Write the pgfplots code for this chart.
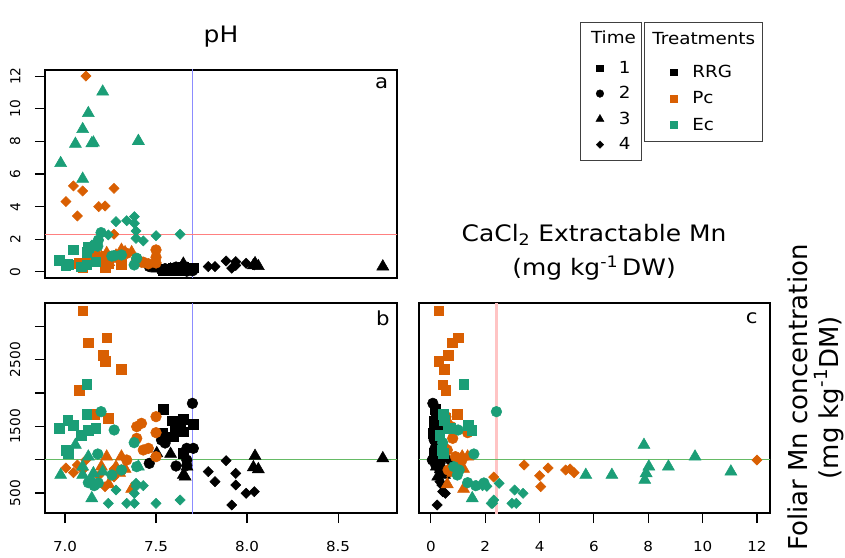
\documentclass[border=0pt]{standalone}
\usepackage{fontspec}
\setmainfont{DejaVu Sans}[FakeStretch=1.1]
\newfontfamily\vfont{DejaVu Sans}
\usepackage{pgfplots}
\usepackage{pgfplotstable}
\pgfplotsset{compat=1.18}

\definecolor{rrg}{HTML}{000000}
\definecolor{pc}{HTML}{D95F02}
\definecolor{ec}{HTML}{1B9E77}
\definecolor{refblue}{HTML}{8C8CFF}
\definecolor{refred}{HTML}{FF8080}
\definecolor{refgreen}{HTML}{66BB66}
\definecolor{refpink}{HTML}{FFC4C4}

% columns: pH, CaCl2 extractable Mn, foliar Mn
\pgfplotstableread{
ph ca fol
7.540 0.15 1760
7.590 0.10 1585
7.650 0.20 1605
7.705 0.25 1535
7.604 0.12 1445
7.632 0.18 1495
7.537 0.08 1395
7.595 0.22 1345
7.650 0.30 1420
7.650 0.10 1095
}\rrgA
\pgfplotstableread{
ph ca fol
7.700 0.07 1845
7.530 0.12 1295
7.550 0.20 1250
7.705 0.15 1170
7.669 0.25 1170
7.463 0.33 945
7.610 0.30 905
7.669 0.05 995
7.669 0.18 915
}\rrgB
\pgfplotstableread{
ph ca fol
7.504 0.20 1095
7.580 0.15 1085
7.650 0.50 770
7.660 0.25 745
7.670 0.20 895
8.044 0.53 1055
8.035 0.40 885
8.062 0.35 855
8.746 0.33 1020
}\rrgC
\pgfplotstableread{
ph ca fol
7.787 0.33 820
7.824 0.33 670
7.885 0.67 985
7.938 0.63 795
7.938 0.40 620
7.916 0.23 320
7.995 0.53 495
8.040 0.43 520
}\rrgD
\pgfplotstableread{
ph ca fol
7.097 0.29 3235
7.229 1.00 2830
7.128 0.78 2755
7.210 0.64 2570
7.220 0.29 2480
7.310 0.48 2360
7.077 0.54 2045
7.120 0.44 2125
7.161 0.97 1685
7.238 0.54 1620
}\pcA
\pgfplotstableread{
ph ca fol
7.500 0.55 1645
7.420 0.60 1545
7.394 0.75 1495
7.500 1.35 1405
7.394 0.80 1320
7.430 0.60 1145
7.458 0.50 1170
7.500 0.90 1045
7.339 1.14 995
7.310 0.63 845
}\pcB
\pgfplotstableread{
ph ca fol
7.229 1.15 1045
7.310 1.35 1045
7.200 0.90 895
7.280 1.00 890
7.330 1.20 860
7.300 0.80 800
7.240 0.60 630
7.366 1.20 560
}\pcC
\pgfplotstableread{
ph ca fol
7.115 12.00 995
7.046 5.27 805
7.097 4.96 845
7.269 5.12 860
7.005 4.31 875
7.068 3.43 920
7.185 4.00 760
7.220 4.04 595
7.269 2.31 740
}\pcD
\pgfplotstableread{
ph ca fol
7.120 1.21 2130
7.120 0.45 1685
6.969 0.73 1470
7.015 0.49 1595
7.046 1.37 1520
7.088 0.33 1370
7.128 1.50 1445
7.170 0.63 1470
7.005 0.40 1145
7.018 0.45 1095
}\ecA
\pgfplotstableread{
ph ca fol
7.198 2.41 1720
7.270 1.00 1445
7.380 0.43 1255
7.180 1.58 1085
7.128 1.35 655
7.183 1.95 650
7.257 0.97 770
7.310 1.04 845
7.394 0.84 895
7.160 1.65 610
}\ecB
\pgfplotstableread{
ph ca fol
7.207 11.04 820
7.128 9.72 1045
7.097 8.74 895
7.057 7.84 1220
7.156 7.92 795
7.403 8.02 895
6.976 6.66 770
7.097 5.70 770
7.147 7.87 695
7.147 1.52 420
}\ecC
\pgfplotstableread{
ph ca fol
7.280 3.08 545
7.339 3.14 345
7.381 3.39 495
7.381 2.98 345
7.390 2.51 645
7.390 2.06 600
7.430 1.90 610
7.238 2.27 345
7.500 2.22 345
7.632 2.31 395
}\ecD

\pgfplotsset{
  t1/.style={only marks, forget plot, mark=square*, mark size=3.6pt},
  t2/.style={only marks, forget plot, mark=*, mark size=4pt},
  t3/.style={only marks, forget plot, mark=triangle*, mark size=5.2pt},
  t4/.style={only marks, forget plot, mark=square*, mark size=2.7pt, mark options={rotate=45}},
  refl/.style={forget plot, no marks, line width=0.75pt},
  panel/.style={scale only axis, clip=true, axis line style={line width=0.8pt},
    tick align=outside, tick pos=left, major tick length=7.5pt,
    every tick/.style={black, line width=0.8pt},
    /pgf/number format/assume math mode=true,
    xticklabel shift=10.5pt, yticklabel shift=7.5pt,
    xticklabel style={font=\fontsize{10.3}{12}\selectfont},
    yticklabel style={rotate=90, anchor=south, font=\vfont\fontsize{10.3}{12}\selectfont}},
}

\begin{document}
\begin{tikzpicture}
\useasboundingbox (0,0) rectangle (633.75pt,417.75pt);

% ---------- panel a ----------
\begin{axis}[panel, at={(33.75pt,209.25pt)}, anchor=south west,
  width=264pt, height=156pt,
  xmin=6.89, xmax=8.824, ymin=-0.37, ymax=12.37,
  xtick=\empty, ytick={0,2,...,12},
  legend style={at={(1.52,1.2308)}, anchor=north west, draw=black!75, line width=0.8pt,
    font=\fontsize{12.5}{15}\selectfont, row sep=4.4pt, column sep=9pt,
    inner xsep=6pt, inner ysep=4.5pt},
  legend cell align=left]
\addplot[refl, refblue] coordinates {(7.7,-1) (7.7,13)};
\addplot[refl, refred] coordinates {(6.8,2.31) (8.9,2.31)};
\addplot[t1, rrg] table[x=ph, y=ca] {\rrgA};
\addplot[t2, rrg] table[x=ph, y=ca] {\rrgB};
\addplot[t3, rrg] table[x=ph, y=ca] {\rrgC};
\addplot[t4, rrg] table[x=ph, y=ca] {\rrgD};
\addplot[t1, pc] table[x=ph, y=ca] {\pcA};
\addplot[t2, pc] table[x=ph, y=ca] {\pcB};
\addplot[t3, pc] table[x=ph, y=ca] {\pcC};
\addplot[t4, pc] table[x=ph, y=ca] {\pcD};
\addplot[t1, ec] table[x=ph, y=ca] {\ecA};
\addplot[t2, ec] table[x=ph, y=ca] {\ecB};
\addplot[t3, ec] table[x=ph, y=ca] {\ecC};
\addplot[t4, ec] table[x=ph, y=ca] {\ecD};
\node[font=\fontsize{14.5}{16}\selectfont] at (rel axis cs:0.9565,0.936) {a};
\addlegendimage{empty legend}\addlegendentry{\raisebox{3pt}{\hspace*{-20.8pt}Time\hspace*{-4.5pt}}}
\addlegendimage{only marks, black, mark=square*, mark size=2.5pt, line width=0.2pt}\addlegendentry{1}
\addlegendimage{only marks, black, mark=*, mark size=2.9pt, line width=0.2pt}\addlegendentry{2}
\addlegendimage{only marks, black, mark=triangle*, mark size=3.6pt, line width=0.2pt}\addlegendentry{3}
\addlegendimage{only marks, black, mark=square*, mark size=2pt, line width=0.2pt, mark options={rotate=45}}\addlegendentry{4}
\end{axis}

% ---------- panel b ----------
\begin{axis}[panel, at={(33.75pt,33pt)}, anchor=south west,
  width=264pt, height=157.5pt,
  xmin=6.89, xmax=8.824, ymin=200, ymax=3350,
  xtick={7,7.5,8,8.5}, xticklabels={7.0,7.5,8.0,8.5},
  ytick={500,1000,...,3000}, yticklabels={500,,1500,,2500,}]
\addplot[refl, refblue] coordinates {(7.7,0) (7.7,3500)};
\addplot[refl, refgreen] coordinates {(6.8,1000) (8.9,1000)};
\addplot[t1, rrg] table[x=ph, y=fol] {\rrgA};
\addplot[t2, rrg] table[x=ph, y=fol] {\rrgB};
\addplot[t3, rrg] table[x=ph, y=fol] {\rrgC};
\addplot[t4, rrg] table[x=ph, y=fol] {\rrgD};
\addplot[t1, pc] table[x=ph, y=fol] {\pcA};
\addplot[t2, pc] table[x=ph, y=fol] {\pcB};
\addplot[t3, pc] table[x=ph, y=fol] {\pcC};
\addplot[t4, pc] table[x=ph, y=fol] {\pcD};
\addplot[t1, ec] table[x=ph, y=fol] {\ecA};
\addplot[t2, ec] table[x=ph, y=fol] {\ecB};
\addplot[t3, ec] table[x=ph, y=fol] {\ecC};
\addplot[t4, ec] table[x=ph, y=fol] {\ecD};
\node[font=\fontsize{14.5}{16}\selectfont] at (rel axis cs:0.960,0.929) {b};
\end{axis}

% ---------- panel c ----------
\begin{axis}[panel, at={(314.25pt,33pt)}, anchor=south west,
  width=263.25pt, height=157.5pt,
  xmin=-0.44, xmax=12.48, ymin=200, ymax=3350,
  xtick={0,2,...,12}, ytick=\empty,
  legend style={at={(0.641,2.338)}, anchor=north west, draw=black!75, line width=0.8pt,
    font=\fontsize{12.5}{15}\selectfont, row sep=5.2pt, column sep=9.25pt,
    inner xsep=13.5pt, inner ysep=5pt},
  legend cell align=left]
\addplot[refl, refpink, line width=2.2pt] coordinates {(2.42,0) (2.42,3500)};
\addplot[refl, refgreen] coordinates {(-1,1000) (13,1000)};
\addplot[t1, rrg] table[x=ca, y=fol] {\rrgA};
\addplot[t2, rrg] table[x=ca, y=fol] {\rrgB};
\addplot[t3, rrg] table[x=ca, y=fol] {\rrgC};
\addplot[t4, rrg] table[x=ca, y=fol] {\rrgD};
\addplot[t1, pc] table[x=ca, y=fol] {\pcA};
\addplot[t2, pc] table[x=ca, y=fol] {\pcB};
\addplot[t3, pc] table[x=ca, y=fol] {\pcC};
\addplot[t4, pc] table[x=ca, y=fol] {\pcD};
\addplot[t1, ec] table[x=ca, y=fol] {\ecA};
\addplot[t2, ec] table[x=ca, y=fol] {\ecB};
\addplot[t3, ec] table[x=ca, y=fol] {\ecC};
\addplot[t4, ec] table[x=ca, y=fol] {\ecD};
\node[font=\fontsize{14.5}{16}\selectfont] at (rel axis cs:0.948,0.929) {c};
\addlegendimage{empty legend}\addlegendentry{\raisebox{5pt}{\hspace*{-30pt}Treatments\hspace*{-10pt}}}
\addlegendimage{only marks, rrg, mark=square*, mark size=2.6pt, line width=0.2pt}\addlegendentry{RRG}
\addlegendimage{only marks, pc, mark=square*, mark size=2.6pt, line width=0.2pt}\addlegendentry{Pc}
\addlegendimage{only marks, ec, mark=square*, mark size=2.6pt, line width=0.2pt}\addlegendentry{Ec}
\end{axis}

% ---------- titles ----------
\node[anchor=base, font=\fontsize{17}{20}\selectfont] at (165.75pt,385.5pt) {pH};
\node[anchor=base, font=\fontsize{17}{20}\selectfont] at (445.5pt,236.6pt) {CaCl\textsubscript{2} Extractable Mn};
\node[anchor=base, font=\fontsize{17}{20}\selectfont] at (445.5pt,210.75pt) {(mg kg\textsuperscript{-1}\,DW)};
\node[anchor=base, rotate=90, font=\vfont\fontsize{19.5}{24}\selectfont] at (605.25pt,119.5pt) {Foliar Mn concentration};
\node[anchor=base, rotate=90, font=\vfont\fontsize{19.5}{24}\selectfont] at (628.5pt,119.5pt) {(mg kg\textsuperscript{-1}DM)};
\end{tikzpicture}
\end{document}
